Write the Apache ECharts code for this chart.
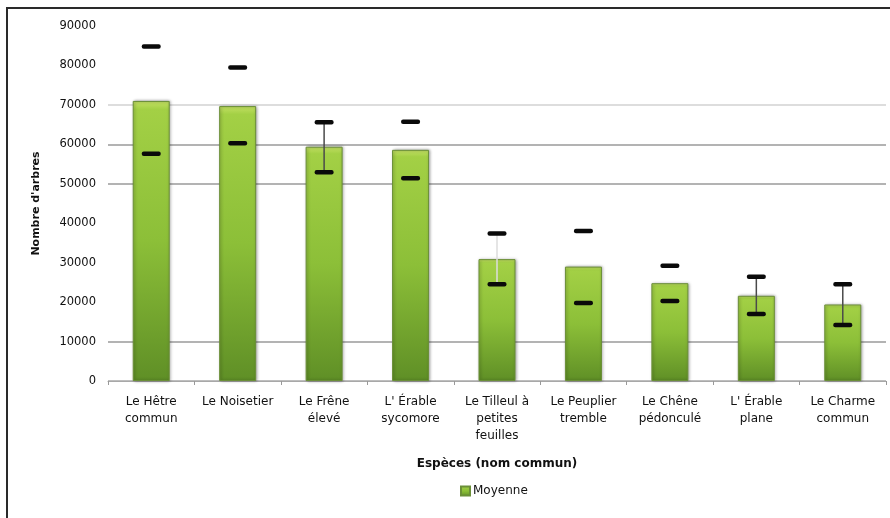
<!DOCTYPE html>
<html>
<head>
<meta charset="utf-8">
<script src="https://cdn.jsdelivr.net/npm/echarts@6/dist/echarts.min.js"></script>
<style>
  html, body { margin: 0; padding: 0; background: #fff; overflow: hidden; }
  #frame { position: absolute; left: 6px; top: 7px; width: 2000px; height: 2000px; border-top: 2px solid #2a2a2a; border-left: 2px solid #2a2a2a; }
  #chart { position: absolute; left: 0; top: 0; width: 890px; height: 518px; }
</style>
</head>
<body>
<div id="frame"></div>
<div id="chart"></div>
<script>
const categories = [
  "Le Hêtre\ncommun",
  "Le Noisetier",
  "Le Frêne\nélevé",
  "L' Érable\nsycomore",
  "Le Tilleul à\npetites\nfeuilles",
  "Le Peuplier\ntremble",
  "Le Chêne\npédonculé",
  "L' Érable\nplane",
  "Le Charme\ncommun"
];
const moyenne = [71000, 69700, 59400, 58600, 30900, 29000, 24800, 21600, 19400];
const borneHaute = [84800, 79500, 65600, 65700, 37400, 38000, 29200, 26400, 24500];
const borneBasse = [57600, 60300, 52900, 51400, 24500, 19800, 20300, 17000, 14200];
const yTicks = [0, 10000, 20000, 30000, 40000, 50000, 60000, 70000, 80000, 90000];

const chart = echarts.init(document.getElementById('chart'), null, { renderer: 'canvas' });
const FONT = 'DejaVu Sans';

const whiskerColor = { 2: '#4a4a4a', 4: '#dcdcdc', 7: '#4a4a4a', 8: '#4a4a4a' };

const errData = categories.map((c, i) => [i, borneBasse[i], borneHaute[i]]);

chart.setOption({
  animation: false,
  textStyle: { fontFamily: FONT },
  grid: { left: 108, right: 4, top: 26, bottom: 137, containLabel: false },
  legend: {
    data: ['Moyenne'],
    left: 455, top: 480,
    itemWidth: 9, itemHeight: 9, itemGap: 4,
    icon: 'rect',
    textStyle: { fontFamily: FONT, fontSize: 12, color: '#111', padding: [0, 0, 0, -2] }
  },
  xAxis: {
    type: 'category',
    data: categories,
    name: 'Espèces (nom commun)',
    nameLocation: 'middle',
    nameGap: 77,
    nameTextStyle: { fontFamily: FONT, fontSize: 12, fontWeight: 'bold', color: '#111' },
    axisLine: { lineStyle: { color: '#a8a8a8', width: 1 } },
    axisTick: { show: true, alignWithLabel: false, length: 4, lineStyle: { color: '#999' } },
    axisLabel: { interval: 0, margin: 12, fontFamily: FONT, fontSize: 12, color: '#111', lineHeight: 17 }
  },
  yAxis: {
    type: 'value',
    min: yTicks[0],
    max: yTicks[yTicks.length - 1],
    interval: yTicks[1] - yTicks[0],
    name: "Nombre d'arbres",
    nameLocation: 'middle',
    nameGap: 66,
    nameTextStyle: { fontFamily: FONT, fontSize: 11, fontWeight: 'bold', color: '#111' },
    axisLine: { show: false },
    axisTick: { show: false },
    axisLabel: { margin: 12, fontFamily: FONT, fontSize: 11.5, color: '#111', formatter: function (v) { return String(v); } },
    splitLine: {
      show: true,
      lineStyle: {
        width: 1.5,
        color: ['#a8a8a8', '#9a9a9a', 'rgba(0,0,0,0)', 'rgba(0,0,0,0)', 'rgba(0,0,0,0)', '#9a9a9a', '#9a9a9a', '#d2d2d2', 'rgba(0,0,0,0)', 'rgba(0,0,0,0)']
      }
    }
  },
  series: [
    {
      name: 'Moyenne',
      type: 'bar',
      data: moyenne,
      barWidth: 37,
      itemStyle: {
        color: new echarts.graphic.LinearGradient(0, 0, 0, 1, [
          { offset: 0, color: '#c4e064' },
          { offset: 0.03, color: '#a3d045' },
          { offset: 0.5, color: '#8cbf38' },
          { offset: 1, color: '#5f8f26' }
        ]),
        borderColor: '#6b8f38',
        borderWidth: 1,
        shadowColor: 'rgba(0,0,0,0.35)',
        shadowBlur: 3,
        shadowOffsetX: 1
      }
    },
    {
      type: 'custom',
      name: 'err',
      data: errData,
      z: 10,
      renderItem: function (params, api) {
        const i = api.value(0);
        const lo = api.coord([i, api.value(1)]);
        const hi = api.coord([i, api.value(2)]);
        const x = lo[0];
        const capW = 19, capH = 4.5;
        const children = [];
        if (whiskerColor[i]) {
          children.push({
            type: 'line',
            shape: { x1: x, y1: hi[1], x2: x, y2: lo[1] },
            style: { stroke: whiskerColor[i], lineWidth: 1.5 }
          });
        }
        children.push({
          type: 'rect',
          shape: { x: x - capW / 2, y: hi[1] - capH / 2, width: capW, height: capH, r: 2 },
          style: { fill: '#0a0a0a' }
        });
        children.push({
          type: 'rect',
          shape: { x: x - capW / 2, y: lo[1] - capH / 2, width: capW, height: capH, r: 2 },
          style: { fill: '#0a0a0a' }
        });
        return { type: 'group', children: children };
      }
    }
  ]
});
</script>
</body>
</html>
